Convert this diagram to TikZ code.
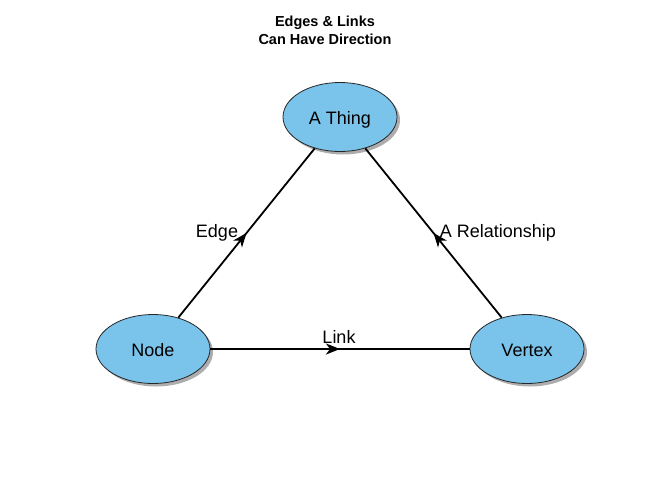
\documentclass[tikz,border=0pt]{standalone}
\usepackage{fontspec}
\setmainfont{Liberation Sans}
\usetikzlibrary{shapes.geometric,shadows,decorations.markings,arrows.meta}
\definecolor{nodeblue}{RGB}{122,196,236}
\begin{document}
\begin{tikzpicture}[x=1pt,y=-1pt,
  ent/.style={ellipse,draw=black!85,line width=0.8pt,fill=nodeblue,
    minimum width=114pt,minimum height=69pt,inner sep=0pt,
    text height=15pt,text depth=1pt,
    font=\fontsize{18}{20}\selectfont,
    drop shadow={shadow xshift=3pt,shadow yshift=-3pt,fill=black!40,opacity=0.8}},
  conn/.style={line width=1.8pt,postaction={decorate},
    decoration={markings,mark=at position 0.5 with {\arrow{Stealth[length=14pt,width=11pt,inset=4pt]}}}},
  lbl/.style={font=\fontsize{18}{20}\selectfont,inner sep=0pt}]
\useasboundingbox (0,0) rectangle (650,480);
\node[font=\bfseries\fontsize{14.5}{18}\selectfont,align=center] (title) at (325,30.5) {Edges \& Links\\Can Have Direction};
\node[ent] (thing) at (340,117) {A Thing};
\node[ent] (node) at (153,349) {Node};
\node[ent] (vertex) at (527,349) {Vertex};
\draw[conn] (node) -- (thing);
\draw[conn] (vertex) -- (thing);
\draw[conn] (node) -- (vertex);
\node[lbl] (l1) at (217,233) {Edge};
\node[lbl] (l2) at (498,233) {A Relationship};
\node[lbl] (l3) at (339,337) {Link};
\end{tikzpicture}
\end{document}
